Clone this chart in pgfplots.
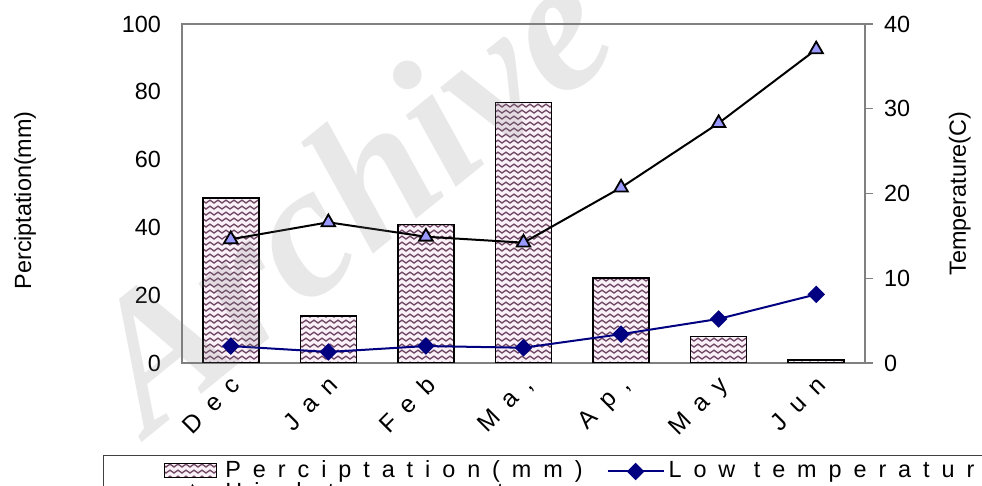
\documentclass[border=0pt]{standalone}
\usepackage{fontspec}
\setmainfont{Liberation Sans}
\newfontfamily\spaced[LetterSpace=51]{Liberation Sans}
\newfontfamily\wmfont{Liberation Serif}
\usepackage{pgfplots}
\pgfplotsset{compat=1.18}
\usetikzlibrary{patterns}

\definecolor{wavec}{RGB}{110,70,100}
\definecolor{barbg}{RGB}{250,240,247}
\definecolor{lowc}{RGB}{0,0,128}
\definecolor{highc}{RGB}{153,153,255}
\definecolor{framec}{RGB}{128,128,128}

\newcommand\cf{\fontsize{11.7}{14}\selectfont}

% wavy fill of the bars
\pgfdeclarepatternformonly{waves}{\pgfqpoint{-0.5pt}{-0.5pt}}{\pgfqpoint{4.5pt}{3.5pt}}{\pgfqpoint{4pt}{3pt}}{%
  \pgfsetlinewidth{0.65pt}%
  \pgfpathmoveto{\pgfqpoint{0pt}{1.2pt}}%
  \pgfpathsine{\pgfqpoint{1pt}{0.7pt}}%
  \pgfpathcosine{\pgfqpoint{1pt}{-0.7pt}}%
  \pgfpathsine{\pgfqpoint{1pt}{-0.7pt}}%
  \pgfpathcosine{\pgfqpoint{1pt}{0.7pt}}%
  \pgfusepath{stroke}%
}

\pgfplotsset{
  common/.style={
    scale only axis, width=341.5pt, height=169.5pt,
    xmin=-0.5, xmax=6.5,
    tick label style={font=\cf},
    /pgf/number format/assume math mode=true,
  },
  barstyle/.style={draw=black, line width=0.8pt, preaction={fill=barbg},
    pattern=waves, pattern color=wavec},
  patchlegend/.style={legend image code/.code={\draw[##1] (0pt,-3pt) rectangle (26pt,4pt);}},
  marklegend/.style={legend image code/.code={\draw[mark repeat=2, mark phase=2, ##1] plot coordinates {(0pt,0pt) (14pt,0pt) (28pt,0pt)};}},
}

\begin{document}
\begin{tikzpicture}
\useasboundingbox (-91pt,-61.5pt) rectangle (400pt,181.5pt);
\clip (-91pt,-61.5pt) rectangle (400pt,181.5pt);

\begin{axis}[common,
  ymin=0, ymax=100, ytick={0,20,...,100},
  xtick={0,...,6},
  xticklabels={Dec,Jan,Feb,{Ma,},{Ap,},May,Jun},
  axis line style={framec, line width=0.6pt},
  major tick length=0pt,
  xticklabel style={font=\spaced\fontsize{12.3}{14}\selectfont, rotate=45, anchor=north east, yshift=0pt, xshift=-1pt},
  yticklabel style={xshift=-7pt},
  ylabel={Perciptation(mm)},
  ylabel style={font=\cf, at={(axis description cs:-0.2299,0.48)}, anchor=center},
  ybar, bar width=28pt,
]
\addplot[barstyle] coordinates {(0,48.6) (1,13.9) (2,40.9) (3,76.9) (4,25.0) (5,7.8) (6,0.9)};
\end{axis}

\begin{axis}[common,
  ymin=0, ymax=40, ytick={0,10,...,40},
  axis x line=none, axis y line*=right,
  y axis line style={framec, line width=0.6pt},
  ytick style={framec, line width=0.6pt},
  tick align=outside, major tick length=4pt,
  yticklabel style={xshift=2pt},
  ylabel={Temperature(C)},
  ylabel style={font=\cf, at={(axis description cs:1.139,0.5)}, anchor=center},
  legend columns=2,
  legend cell align=left,
  legend style={at={(axis description cs:-0.1157,-0.2714)}, anchor=north west,
    draw=black!75, line width=0.5pt, font=\spaced\cf,
    inner xsep=30pt, inner ysep=2.5pt, row sep=0pt,
    nodes={inner ysep=0.5pt, text height=8pt, text depth=2pt},
    /tikz/every even column/.append style={column sep=10pt}},
]
\addlegendimage{barstyle, patchlegend}
\addlegendentry{Perciptation(mm)}
\addplot[lowc, line width=1pt, mark=square*, mark size=2.6pt,
  mark options={rotate=45, fill=lowc, draw=lowc}, marklegend]
  coordinates {(0,2.0) (1,1.3) (2,2.0) (3,1.8) (4,3.4) (5,5.2) (6,8.1)};
\addlegendentry{Low temperature mean}
\addplot[black, line width=1pt, mark=triangle*, mark size=3.9pt,
  mark options={fill=highc, draw=black, line width=0.9pt}, marklegend]
  coordinates {(0,14.6) (1,16.6) (2,14.9) (3,14.2) (4,20.7) (5,28.3) (6,37.0)};
\addlegendentry{\makebox[0pt][l]{High temperature mean}}
\end{axis}

\node[font=\wmfont\bfseries\itshape\fontsize{95}{95}\selectfont, text=gray, opacity=0.18, rotate=39]
  at (82pt,85pt) {Archive};
\end{tikzpicture}
\end{document}
